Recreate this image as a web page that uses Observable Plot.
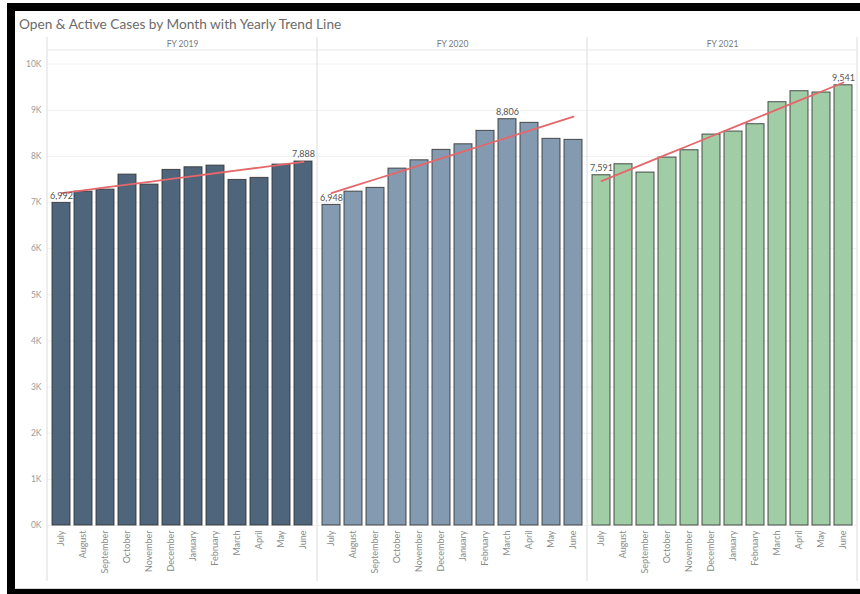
<!DOCTYPE html>
<html>
<head>
<meta charset="utf-8">
<script src="https://cdn.jsdelivr.net/npm/d3@7"></script>
<script src="https://cdn.jsdelivr.net/npm/@observablehq/plot@0.6"></script>
<style>
  html, body { margin: 0; padding: 0; background: #fff; }
  #frame {
    position: absolute; left: 7px; top: 3px; width: 853px; height: 591px;
    box-sizing: border-box; background: #fff;
    border-top: 8px solid #000; border-left: 8px solid #000; border-bottom: 5px solid #000;
  }
  #title {
    height: 26px; line-height: 26px; padding-left: 4px;
    font-family: Lato, "Noto Sans", sans-serif; font-size: 13.7px; color: #6b6b6b;
    white-space: nowrap;
  }
  #chart { border-bottom: 1px solid #d8d8d8; height: 551px; overflow: hidden; }
</style>
</head>
<body>
<div id="frame">
  <div id="title">Open &amp; Active Cases by Month with Yearly Trend Line</div>
  <div id="chart"></div>
</div>
<script>
// Fiscal years and months (fiscal year runs July to June)
const years = ["2019", "2020", "2021"];
const months = ["July", "August", "September", "October", "November", "December",
                "January", "February", "March", "April", "May", "June"];

// Open & active cases per month, one array per fiscal year
const fy2019 = [6992, 7236, 7280, 7605, 7388, 7707, 7764, 7800, 7490, 7534, 7822, 7888];
const fy2020 = [6948, 7236, 7317, 7735, 7915, 8141, 8262, 8553, 8806, 8727, 8380, 8358];
const fy2021 = [7591, 7829, 7649, 7974, 8133, 8473, 8538, 8697, 9174, 9412, 9384, 9541];

const yTicks = [0, 1000, 2000, 3000, 4000, 5000, 6000, 7000, 8000, 9000, 10000];
const yearColors = ["#4e657c", "#849ab0", "#a0cda6"];

const series = {"2019": fy2019, "2020": fy2020, "2021": fy2021};
const data = years.flatMap(year => series[year].map((value, i) => ({year, month: months[i], i, value})));

// Least-squares trend per fiscal year, evaluated at each month
const trend = years.flatMap(year => {
  const rows = data.filter(d => d.year === year);
  const mx = d3.mean(rows, d => d.i), my = d3.mean(rows, d => d.value);
  const slope = d3.sum(rows, d => (d.i - mx) * (d.value - my)) / d3.sum(rows, d => (d.i - mx) ** 2);
  return rows.map(d => ({year, month: d.month, trend: my + slope * (d.i - mx)}));
});

// Label the lowest and highest month of each year
const labels = years.flatMap(year => {
  const rows = data.filter(d => d.year === year);
  return [d3.least(rows, d => d.value), d3.greatest(rows, d => d.value)];
});

const font = "Lato, 'Noto Sans', sans-serif";

const chart = Plot.plot({
  width: 845,
  height: 551,
  marginTop: 26.6,
  marginBottom: 63,
  marginLeft: 32,
  marginRight: 3,
  style: {fontFamily: font, background: "transparent"},
  fx: {domain: years, padding: 0, label: null},
  x: {domain: months, paddingInner: 0.2, paddingOuter: 0.05, label: null},
  y: {domain: [0, 10000], label: null},
  color: {domain: years, range: yearColors},
  marks: [
    Plot.gridY(yTicks, {stroke: "#000", strokeOpacity: 0.06}),
    Plot.axisFx({anchor: "top", tickSize: 0, tickPadding: 17, fontSize: 8.5, fill: "#7a7a7a",
                 tickFormat: d => "FY " + d, label: null}),
    Plot.axisY(yTicks, {anchor: "left", tickSize: 0, tickPadding: 6, fontSize: 8.5, fill: "#9a9a9a",
                        tickFormat: d => d / 1000 + "K", label: null}),
    Plot.axisX({anchor: "bottom", tickSize: 0, tickPadding: 5, tickRotate: -90, fontSize: 9,
                fill: "#8a8a8a", label: null}),
    Plot.barY(data, {fx: "year", x: "month", y: "value", fill: "year",
                     stroke: "#333", strokeWidth: 1, strokeOpacity: 0.85}),
    Plot.line(trend, {fx: "year", x: "month", y: "trend", stroke: "#e5676a", strokeWidth: 1.8}),
    Plot.text(labels, {fx: "year", x: "month", y: "value", text: d => d3.format(",")(d.value),
                       dy: -7, fontSize: 9, fill: "#555"})
  ]
});

// Panel dividers and header rule, placed from the facet scale
const fxs = chart.scale("fx");
const edges = years.map(y => fxs.apply(y)).concat([fxs.apply(years[years.length - 1]) + fxs.bandwidth]);
const g = d3.select(chart).append("g").attr("stroke", "#dcdcdc").attr("stroke-width", 1);
g.selectAll("line.div").data(edges).join("line")
  .attr("x1", d => d).attr("x2", d => d)
  .attr("y1", 0).attr("y2", 544);
g.append("line").attr("stroke", "#e6e6e6")
  .attr("x1", edges[0]).attr("x2", edges[edges.length - 1])
  .attr("y1", 13).attr("y2", 13);

document.getElementById("chart").appendChild(chart);
</script>
</body>
</html>
